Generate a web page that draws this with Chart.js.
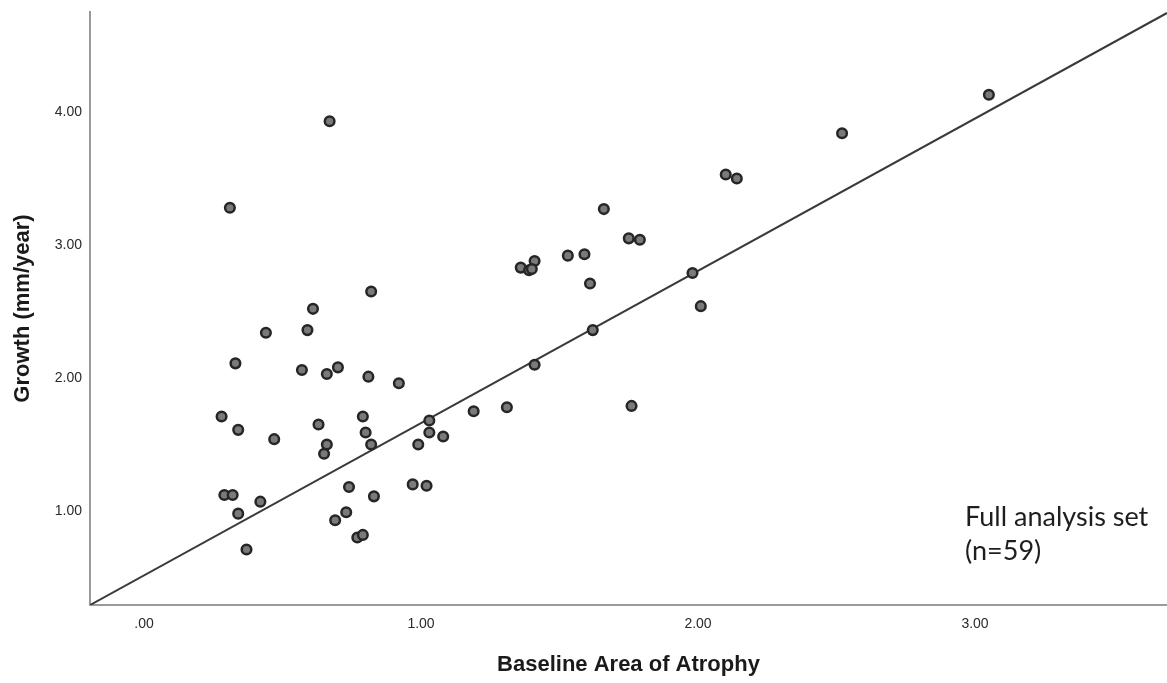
<!DOCTYPE html>
<html>
<head>
<meta charset="utf-8">
<script src="https://cdn.jsdelivr.net/npm/chart.js@4"></script>
<style>
  body { margin: 0; background: #fff; }
  #wrap { width: 1167px; height: 683px; position: relative; }
</style>
</head>
<body>
<div id="wrap"><canvas id="scatter-chart"></canvas></div>
<script>
const scatterCanvas = document.getElementById("scatter-chart")

// data
const baselineArea = [
  0.67, 0.31, 3.05, 2.52, 2.10, 2.14, 1.66, 1.75, 1.79, 1.53,
  1.59, 1.36, 1.39, 1.41, 1.61, 0.82, 0.61, 0.59, 0.44, 0.33,
  0.57, 0.66, 0.70, 0.81, 0.92, 1.98, 2.01, 1.62, 1.41, 1.19,
  1.31, 1.76, 0.28, 0.34, 0.47, 0.63, 0.79, 0.80, 0.82, 0.66,
  0.65, 1.03, 1.03, 1.08, 0.99, 0.29, 0.32, 0.42, 0.34, 0.37,
  0.74, 0.73, 0.69, 0.83, 0.77, 0.79, 0.97, 1.02, 1.40,
]
const growth = [
  3.93, 3.28, 4.13, 3.84, 3.53, 3.50, 3.27, 3.05, 3.04, 2.92,
  2.93, 2.83, 2.81, 2.88, 2.71, 2.65, 2.52, 2.36, 2.34, 2.11,
  2.06, 2.03, 2.08, 2.01, 1.96, 2.79, 2.54, 2.36, 2.10, 1.75,
  1.78, 1.79, 1.71, 1.61, 1.54, 1.65, 1.71, 1.59, 1.50, 1.50,
  1.43, 1.68, 1.59, 1.56, 1.50, 1.12, 1.12, 1.07, 0.98, 0.71,
  1.18, 0.99, 0.93, 1.11, 0.80, 0.82, 1.20, 1.19, 2.82,
]

// fit line
const fitIntercept = 0.516
const fitSlope = 1.145

const xRange = [-0.195, 3.693]
const yRange = [0.293, 4.752]
const xTicks = [0, 1, 2, 3]
const xTickLabels = [".00", "1.00", "2.00", "3.00"]
const yTicks = [1, 2, 3, 4]
const yTickLabels = ["1.00", "2.00", "3.00", "4.00"]
const noteLines = ["Full analysis set", "(n=59)"]

const points = baselineArea.map((x, i) => ({ x: x, y: growth[i] }))
const fitLine = xRange.map(x => ({ x: x, y: fitIntercept + fitSlope * x }))

// annotation text in the lower right corner
const notePlugin = {
  id: "note",
  afterDraw(chart) {
    const ctx = chart.ctx
    const xs = chart.scales.x
    const ys = chart.scales.y
    ctx.save()
    ctx.font = "27px Lato"
    ctx.fillStyle = "#1e1e1e"
    ctx.textAlign = "left"
    ctx.textBaseline = "middle"
    ctx.fillText(noteLines[0], xs.getPixelForValue(2.964), ys.getPixelForValue(0.955))
    ctx.fillText(noteLines[1], xs.getPixelForValue(2.964), ys.getPixelForValue(0.70))
    ctx.restore()
  },
}

// no extra room for tick labels, the plot box is fixed
const noPadding = scale => {
  scale.paddingTop = 0
  scale.paddingBottom = 0
  scale.paddingLeft = 0
  scale.paddingRight = 0
}

const tickFont = { family: "Liberation Sans", size: 14 }
const titleFont = { family: "Liberation Sans", size: 22, weight: "bold" }

let scatterChart = new Chart(scatterCanvas, {
  type: "scatter",
  data: {
    datasets: [
      {
        data: points,
        backgroundColor: "#7a7a7a",
        borderColor: "#262626",
        borderWidth: 2.5,
        pointRadius: 4.8,
        order: 0,
      },
      {
        type: "line",
        data: fitLine,
        borderColor: "#3a3a3a",
        borderWidth: 2,
        pointRadius: 0,
        fill: false,
        order: 1,
      },
    ],
  },
  options: {
    responsive: true,
    maintainAspectRatio: false,
    animation: false,
    layout: {
      autoPadding: false,
      padding: { left: 0, right: 0, top: 12, bottom: 0 },
    },
    scales: {
      x: {
        type: "linear",
        min: xRange[0],
        max: xRange[1],
        afterBuildTicks: scale => {
          scale.ticks = xTicks.map(v => ({ value: v }))
        },
        afterFit: scale => {
          scale.height = 78
          noPadding(scale)
        },
        grid: { display: false, drawTicks: false },
        border: { display: true, color: "#9a9a9a", width: 2 },
        ticks: {
          font: tickFont,
          color: "#2a2a2a",
          padding: 11,
          maxRotation: 0,
          callback: (v, i) => xTickLabels[i],
        },
        title: {
          display: true,
          text: "Baseline Area of Atrophy",
          font: titleFont,
          color: "#1a1a1a",
          padding: { top: 0, bottom: 5 },
        },
      },
      y: {
        type: "linear",
        min: yRange[0],
        max: yRange[1],
        afterBuildTicks: scale => {
          scale.ticks = yTicks.map(v => ({ value: v }))
        },
        afterFit: scale => {
          scale.width = 90
          noPadding(scale)
        },
        grid: { display: false, drawTicks: false },
        border: { display: true, color: "#9a9a9a", width: 2 },
        ticks: {
          font: tickFont,
          color: "#2a2a2a",
          padding: 8,
          callback: (v, i) => yTickLabels[i],
        },
        title: {
          display: true,
          text: "Growth (mm/year)",
          font: titleFont,
          color: "#1a1a1a",
          padding: { top: 10, bottom: 0 },
        },
      },
    },
    plugins: {
      legend: { display: false },
      tooltip: { enabled: false },
    },
  },
  plugins: [notePlugin],
})
</script>
</body>
</html>
